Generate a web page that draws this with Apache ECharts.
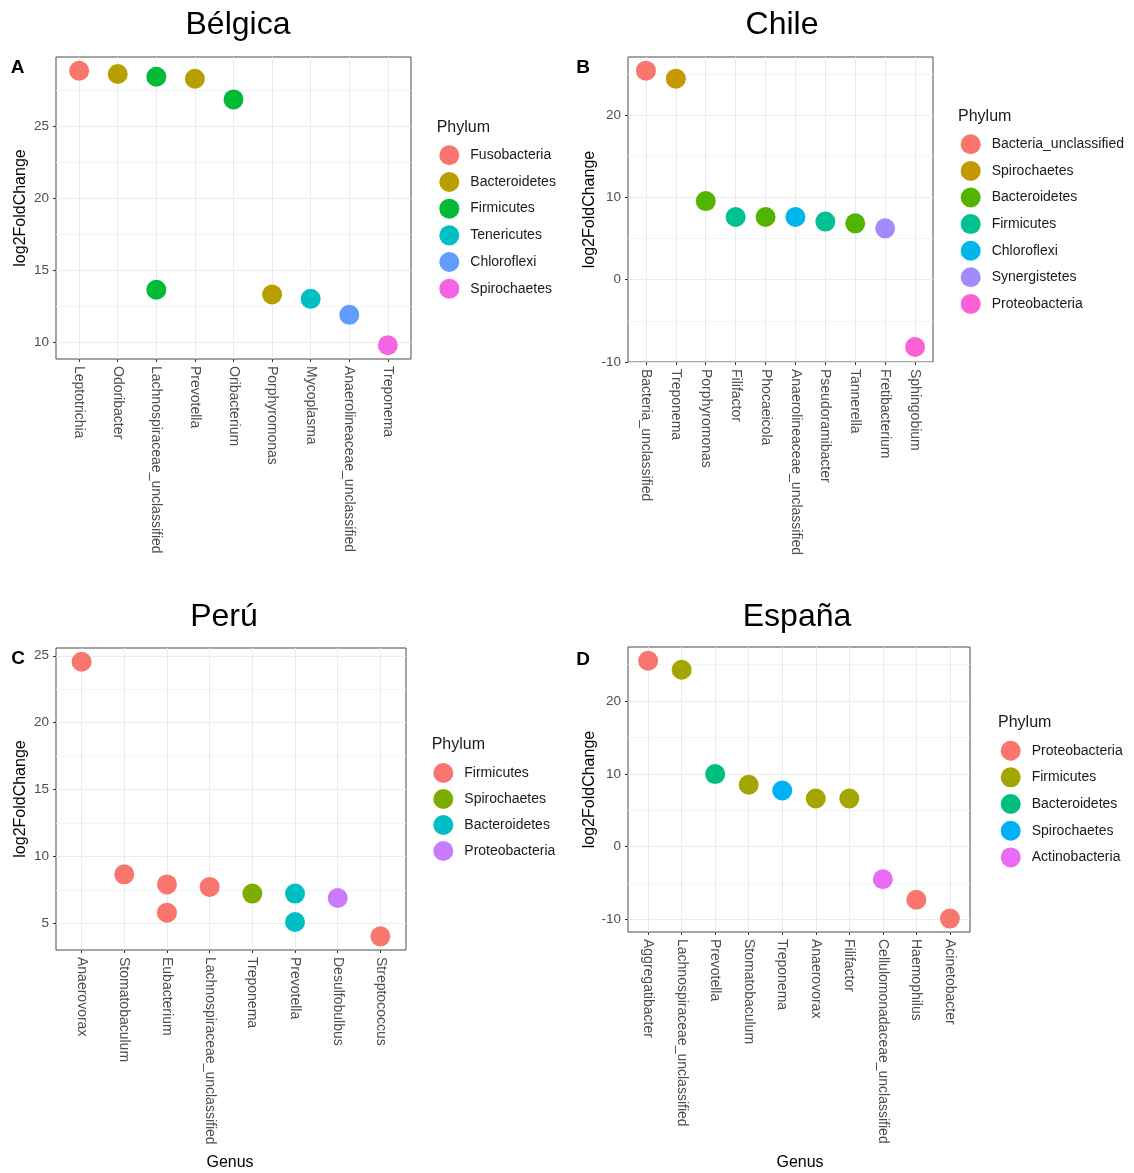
<!DOCTYPE html>
<html>
<head>
<meta charset="utf-8">
<script src="https://cdn.jsdelivr.net/npm/echarts@6/dist/echarts.min.js"></script>
<style>
  html, body { margin: 0; padding: 0; background: #ffffff; }
  #chart { width: 1134px; height: 1173px; }
</style>
</head>
<body>
<div id="chart"></div>
<script>
// ---------- Panel A: Bélgica ----------
const genusA = ['Leptotrichia','Odoribacter','Lachnospiraceae_unclassified','Prevotella','Oribacterium','Porphyromonas','Mycoplasma','Anaerolineaceae_unclassified','Treponema'];
const pointGenusA = ['Leptotrichia','Odoribacter','Lachnospiraceae_unclassified','Prevotella','Oribacterium','Lachnospiraceae_unclassified','Porphyromonas','Mycoplasma','Anaerolineaceae_unclassified','Treponema'];
const pointValueA = [28.84, 28.61, 28.42, 28.28, 26.85, 13.66, 13.33, 13.03, 11.92, 9.81];
const pointPhylumA = ['Fusobacteria','Bacteroidetes','Firmicutes','Bacteroidetes','Firmicutes','Firmicutes','Bacteroidetes','Tenericutes','Chloroflexi','Spirochaetes'];
const phylaA = ['Fusobacteria','Bacteroidetes','Firmicutes','Tenericutes','Chloroflexi','Spirochaetes'];
const colorsA = ['#F8766D','#B79F00','#00BA38','#00BFC4','#619CFF','#F564E3'];
const yLimitsA = [8.86, 29.79];
const yTicksA = [10, 15, 20, 25];
const yMinorA = [12.5, 17.5, 22.5, 27.5];

// ---------- Panel B: Chile ----------
const genusB = ['Bacteria_unclassified','Treponema','Porphyromonas','Filifactor','Phocaeicola','Anaerolineaceae_unclassified','Pseudoramibacter','Tannerella','Fretibacterium','Sphingobium'];
const pointGenusB = ['Bacteria_unclassified','Treponema','Porphyromonas','Filifactor','Phocaeicola','Anaerolineaceae_unclassified','Pseudoramibacter','Tannerella','Fretibacterium','Sphingobium'];
const pointValueB = [25.4, 24.43, 9.55, 7.62, 7.62, 7.62, 7.06, 6.85, 6.24, -8.18];
const pointPhylumB = ['Bacteria_unclassified','Spirochaetes','Bacteroidetes','Firmicutes','Bacteroidetes','Chloroflexi','Firmicutes','Bacteroidetes','Synergistetes','Proteobacteria'];
const phylaB = ['Bacteria_unclassified','Spirochaetes','Bacteroidetes','Firmicutes','Chloroflexi','Synergistetes','Proteobacteria'];
const colorsB = ['#F8766D','#C49A00','#53B400','#00C094','#00B6EB','#A58AFF','#FB61D7'];
const yLimitsB = [-10, 27.06];
const yTicksB = [-10, 0, 10, 20];
const yMinorB = [-5, 5, 15, 25];

// ---------- Panel C: Perú ----------
const genusC = ['Anaerovorax','Stomatobaculum','Eubacterium','Lachnospiraceae_unclassified','Treponema','Prevotella','Desulfobulbus','Streptococcus'];
const pointGenusC = ['Anaerovorax','Stomatobaculum','Eubacterium','Eubacterium','Lachnospiraceae_unclassified','Treponema','Prevotella','Prevotella','Desulfobulbus','Streptococcus'];
const pointValueC = [24.55, 8.68, 7.93, 5.82, 7.74, 7.24, 7.24, 5.12, 6.91, 4.05];
const pointPhylumC = ['Firmicutes','Firmicutes','Firmicutes','Firmicutes','Firmicutes','Spirochaetes','Bacteroidetes','Bacteroidetes','Proteobacteria','Firmicutes'];
const phylaC = ['Firmicutes','Spirochaetes','Bacteroidetes','Proteobacteria'];
const colorsC = ['#F8766D','#7CAE00','#00BFC4','#C77CFF'];
const yLimitsC = [3.03, 25.58];
const yTicksC = [5, 10, 15, 20, 25];
const yMinorC = [7.5, 12.5, 17.5, 22.5];

// ---------- Panel D: España ----------
const genusD = ['Aggregatibacter','Lachnospiraceae_unclassified','Prevotella','Stomatobaculum','Treponema','Anaerovorax','Filifactor','Cellulomonadaceae_unclassified','Haemophilus','Acinetobacter'];
const pointGenusD = ['Aggregatibacter','Lachnospiraceae_unclassified','Prevotella','Stomatobaculum','Treponema','Anaerovorax','Filifactor','Cellulomonadaceae_unclassified','Haemophilus','Acinetobacter'];
const pointValueD = [25.52, 24.28, 9.96, 8.5, 7.72, 6.62, 6.62, -4.46, -7.27, -9.86];
const pointPhylumD = ['Proteobacteria','Firmicutes','Bacteroidetes','Firmicutes','Spirochaetes','Firmicutes','Firmicutes','Actinobacteria','Proteobacteria','Proteobacteria'];
const phylaD = ['Proteobacteria','Firmicutes','Bacteroidetes','Spirochaetes','Actinobacteria'];
const colorsD = ['#F8766D','#A3A500','#00BF7D','#00B0F6','#E76BF3'];
const yLimitsD = [-11.7, 27.4];
const yTicksD = [-10, 0, 10, 20];
const yMinorD = [-5, 5, 15, 25];

const titles = ['Bélgica', 'Chile', 'Perú', 'España'];
const letters = ['A', 'B', 'C', 'D'];
const legendTitle = 'Phylum';
const yName = 'log2FoldChange';
const xName = 'Genus';

const FONT = "'Liberation Sans', Arial, sans-serif";

const panels = [
  { key: 'A', genus: genusA, pg: pointGenusA, pv: pointValueA, pp: pointPhylumA, phyla: phylaA, colors: colorsA, lim: yLimitsA, ticks: yTicksA, minor: yMinorA,
    grid: { left: 56, top: 57, width: 355, height: 302 }, nameGap: 27,
    legend: { left: 439.3, top: 145.3, gap: 6.67 }, lt: [436.7, 128], title: [238, 25], letter: [17.5, 67.5], genusLabel: null },
  { key: 'B', genus: genusB, pg: pointGenusB, pv: pointValueB, pp: pointPhylumB, phyla: phylaB, colors: colorsB, lim: yLimitsB, ticks: yTicksB, minor: yMinorB,
    grid: { left: 628, top: 57, width: 305, height: 305 }, nameGap: 30,
    legend: { left: 960.7, top: 134.3, gap: 6.6 }, lt: [958, 116.7], title: [782, 25], letter: [583, 67.5], genusLabel: null },
  { key: 'C', genus: genusC, pg: pointGenusC, pv: pointValueC, pp: pointPhylumC, phyla: phylaC, colors: colorsC, lim: yLimitsC, ticks: yTicksC, minor: yMinorC,
    grid: { left: 56, top: 648, width: 350, height: 302 }, nameGap: 27,
    legend: { left: 433.3, top: 763, gap: 6.0 }, lt: [431.7, 745], title: [224, 617], letter: [18, 658.5], genusLabel: [230, 1163] },
  { key: 'D', genus: genusD, pg: pointGenusD, pv: pointValueD, pp: pointPhylumD, phyla: phylaD, colors: colorsD, lim: yLimitsD, ticks: yTicksD, minor: yMinorD,
    grid: { left: 628, top: 647, width: 342, height: 285 }, nameGap: 30,
    legend: { left: 1000.7, top: 740.7, gap: 6.67 }, lt: [998, 723], title: [797, 617], letter: [583, 660], genusLabel: [800, 1163] }
];

const option = {
  animation: false,
  backgroundColor: '#ffffff',
  textStyle: { fontFamily: FONT },
  grid: [], xAxis: [], yAxis: [], series: [], legend: [], graphic: []
};

panels.forEach((p, i) => {
  const n = p.genus.length;
  const idx = p.genus.map((_, k) => k);
  option.grid.push(Object.assign({ show: true, borderColor: '#4a4a4a', borderWidth: 1, backgroundColor: '#ffffff', containLabel: false }, p.grid));

  option.xAxis.push({
    type: 'value', gridIndex: i, min: -0.6, max: n - 0.4, position: 'bottom',
    axisLine: { show: false, onZero: false },
    axisTick: { show: true, length: 3, customValues: idx, lineStyle: { color: '#333333', width: 1 } },
    axisLabel: { customValues: idx, rotate: -90, margin: 7, fontSize: 14, color: '#4D4D4D', fontFamily: FONT,
      formatter: v => p.genus[Math.round(v)] },
    splitLine: { show: true, lineStyle: { color: '#EBEBEB', width: 1 } }
  });

  // main y axis
  option.yAxis.push({
    type: 'value', gridIndex: i, min: p.lim[0], max: p.lim[1], position: 'left',
    name: yName, nameLocation: 'middle', nameGap: p.nameGap,
    nameTextStyle: { fontSize: 16, color: '#000000', fontFamily: FONT },
    axisLine: { show: false, onZero: false },
    axisTick: { show: true, length: 3, customValues: p.ticks, lineStyle: { color: '#333333', width: 1 } },
    axisLabel: { customValues: p.ticks, margin: 7, fontSize: 13.5, color: '#4D4D4D', fontFamily: FONT },
    splitLine: { show: true, lineStyle: { color: '#EBEBEB', width: 1 } }
  });
  // minor grid lines axis
  option.yAxis.push({
    type: 'value', gridIndex: i, min: p.lim[0], max: p.lim[1], position: 'left',
    axisLine: { show: false, onZero: false },
    axisTick: { show: false, customValues: p.minor },
    axisLabel: { show: false, customValues: p.minor },
    splitLine: { show: true, lineStyle: { color: '#F4F4F4', width: 1 } },
    z: 0
  });

  p.phyla.forEach((ph, k) => {
    const data = [];
    p.pp.forEach((pp, m) => {
      if (pp === ph) data.push([p.genus.indexOf(p.pg[m]), p.pv[m]]);
    });
    option.series.push({
      type: 'scatter', name: p.key + '|' + ph,
      xAxisIndex: i, yAxisIndex: 2 * i,
      symbol: 'circle', symbolSize: 20,
      itemStyle: { color: p.colors[k], opacity: 1 },
      data: data, z: 3
    });
  });

  option.legend.push({
    orient: 'vertical', left: p.legend.left, top: p.legend.top, padding: 0,
    itemWidth: 32, itemHeight: 20, itemGap: p.legend.gap, icon: 'circle', selectedMode: false,
    data: p.phyla.map(ph => p.key + '|' + ph),
    formatter: name => name.split('|')[1],
    textStyle: { fontSize: 14, color: '#1a1a1a', fontFamily: FONT }
  });

  option.graphic.push({
    type: 'text', x: p.title[0], y: p.title[1],
    style: { text: titles[i], fontSize: 32, fontFamily: FONT, fill: '#000000', align: 'center', verticalAlign: 'middle' }
  });
  option.graphic.push({
    type: 'text', x: p.letter[0], y: p.letter[1],
    style: { text: letters[i], fontSize: 19, fontWeight: 'bold', fontFamily: FONT, fill: '#000000', align: 'center', verticalAlign: 'middle' }
  });
  option.graphic.push({
    type: 'text', x: p.lt[0], y: p.lt[1],
    style: { text: legendTitle, fontSize: 16, fontFamily: FONT, fill: '#1a1a1a', align: 'left', verticalAlign: 'middle' }
  });
  if (p.genusLabel) {
    option.graphic.push({
      type: 'text', x: p.genusLabel[0], y: p.genusLabel[1],
      style: { text: xName, fontSize: 16, fontFamily: FONT, fill: '#000000', align: 'center', verticalAlign: 'middle' }
    });
  }
});

const chart = echarts.init(document.getElementById('chart'), null, { renderer: 'canvas' });
chart.setOption(option);
</script>
</body>
</html>
